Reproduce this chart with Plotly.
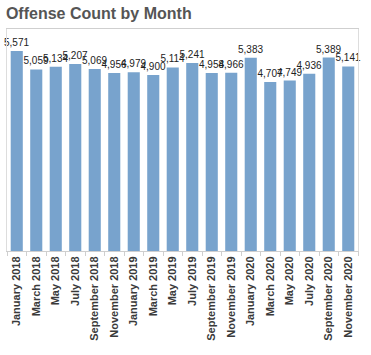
import plotly.graph_objects as go

months = ["January 2018", "March 2018", "May 2018", "July 2018", "September 2018", "November 2018",
          "January 2019", "March 2019", "May 2019", "July 2019", "September 2019", "November 2019",
          "January 2020", "March 2020", "May 2020", "July 2020", "September 2020", "November 2020"]
counts = [5571, 5059, 5134, 5207, 5069, 4956, 4979, 4900, 5114, 5241, 4958, 4966,
          5383, 4707, 4749, 4936, 5389, 5141]

fig = go.Figure(go.Bar(
    x=months, y=counts,
    marker=dict(color="#78a3cd", line=dict(width=0)),
    text=[f"{v:,}" for v in counts],
    textposition="outside",
    textfont=dict(family="Liberation Sans, Arial", size=10, color="#222"),
    constraintext="none",
    cliponaxis=False,
    hoverinfo="x+y",
))

fig.update_layout(
    width=371, height=355,
    margin=dict(l=7, r=13, t=29, b=104, autoexpand=False),
    paper_bgcolor="white", plot_bgcolor="white",
    bargap=0.38,
    showlegend=False,
    title=dict(text="<b>Offense Count by Month</b>", x=0.016, xanchor="left", y=0.962, yanchor="middle",
               font=dict(family="Liberation Sans, Arial", size=16, color="#555")),
    xaxis=dict(
        type="category",
        automargin=False,
        tickangle=-90,
        tickfont=dict(family="Liberation Sans, Arial", size=11, color="#3a3a3a", weight="bold"),
        showline=True, linecolor="#cfcfcf", linewidth=1, mirror=True,
        ticks="outside", tickson="boundaries", ticklen=4, tickcolor="#cfcfcf",
        showgrid=False,
    ),
    yaxis=dict(
        range=[0, 6185],
        automargin=False,
        showticklabels=False, showgrid=False, zeroline=False,
        showline=True, linecolor="#dddddd", linewidth=1, mirror=True,
        ticks="",
    ),
)

fig.write_html("out.html", config={"displayModeBar": False},
               post_script="document.body.style.margin='0px';document.body.style.padding='0px';")
